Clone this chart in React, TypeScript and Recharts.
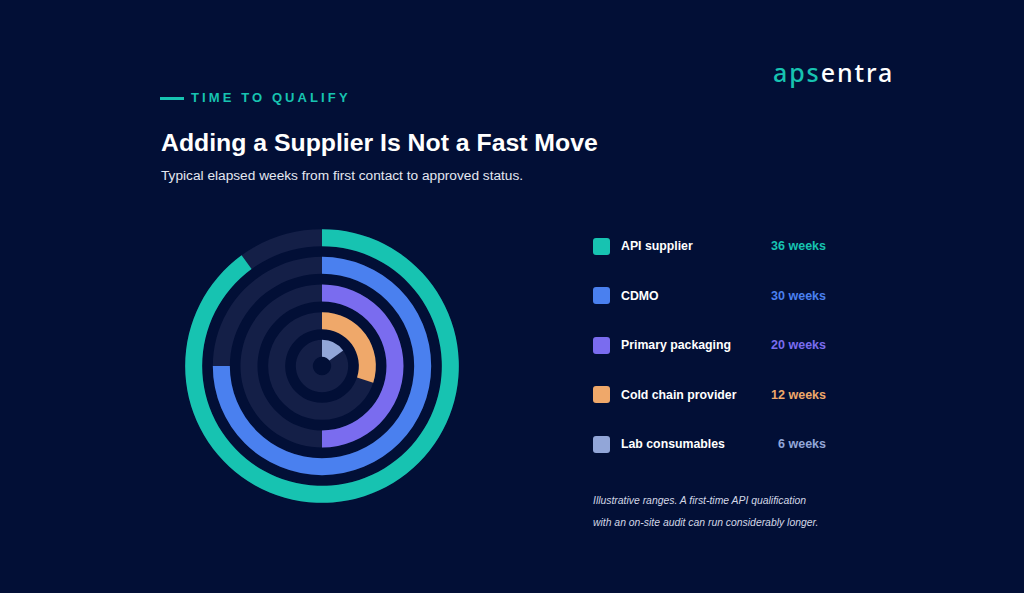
import React from 'react';
import { RadialBarChart, RadialBar, PolarAngleAxis, Cell } from 'recharts';

const categories = ['API supplier', 'CDMO', 'Primary packaging', 'Cold chain provider', 'Lab consumables'];
const weeks = [36, 30, 20, 12, 6];
const seriesColors = ['#17c3b1', '#4a80ef', '#7a6cef', '#efa86a', '#92a6d8'];
const maxWeeks = 40;
const footnote = [
  'Illustrative ranges. A first-time API qualification',
  'with an on-site audit can run considerably longer.',
];

const BG = '#020f36';
const TRACK = '#141f47';
const SANS = '"Liberation Sans", Arial, Helvetica, sans-serif';

// recharts puts the first row on the inside, so flip it
const ringData = categories
  .map((name, i) => ({ name, weeks: weeks[i], color: seriesColors[i] }))
  .reverse();

const App: React.FC = () => {
  return (
    <div
      style={{
        position: 'absolute',
        left: 0,
        top: 0,
        width: 1024,
        height: 593,
        background: BG,
        fontFamily: SANS,
        overflow: 'hidden',
      }}
    >
      {/* logo */}
      <div
        style={{
          position: 'absolute',
          left: 773,
          top: 55,
          fontFamily: '"Noto Sans", sans-serif',
          fontSize: 25,
          fontWeight: 500,
          letterSpacing: 1.9,
          lineHeight: '34px',
        }}
      >
        <span style={{ color: '#17c3b1' }}>aps</span>
        <span style={{ color: '#ffffff' }}>entra</span>
      </div>

      {/* eyebrow */}
      <div style={{ position: 'absolute', left: 160, top: 97, width: 24, height: 3, background: '#17c3b1' }} />
      <div
        style={{
          position: 'absolute',
          left: 191,
          top: 89,
          fontSize: 13,
          fontWeight: 700,
          letterSpacing: 3.1,
          color: '#17c3b1',
          lineHeight: '18px',
        }}
      >
        TIME TO QUALIFY
      </div>

      <div
        style={{
          position: 'absolute',
          left: 161,
          top: 128,
          fontSize: 24.8,
          fontWeight: 700,
          color: '#ffffff',
          lineHeight: '30px',
          whiteSpace: 'nowrap',
        }}
      >
        Adding a Supplier Is Not a Fast Move
      </div>
      <div
        style={{
          position: 'absolute',
          left: 161,
          top: 167,
          fontSize: 13.7,
          color: '#e4e7f1',
          lineHeight: '18px',
          whiteSpace: 'nowrap',
        }}
      >
        Typical elapsed weeks from first contact to approved status.
      </div>

      <div style={{ position: 'absolute', left: 172, top: 216 }}>
        <RadialBarChart
          width={300}
          height={300}
          cx={150}
          cy={150}
          innerRadius={4.2}
          outerRadius={142.5}
          barSize={17}
          startAngle={90}
          endAngle={-270}
          data={ringData}
        >
          <PolarAngleAxis type="number" domain={[0, maxWeeks]} tick={false} axisLine={false} />
          <RadialBar dataKey="weeks" background={{ fill: TRACK }} isAnimationActive={false}>
            {ringData.map((d) => (
              <Cell key={d.name} fill={d.color} />
            ))}
          </RadialBar>
        </RadialBarChart>
      </div>

      {/* legend */}
      {categories.map((name, i) => {
        const cy = 246 + i * 49.5;
        return (
          <div key={name}>
            <div
              style={{
                position: 'absolute',
                left: 593,
                top: cy - 8.5,
                width: 17,
                height: 17,
                borderRadius: 3,
                background: seriesColors[i],
              }}
            />
            <div
              style={{
                position: 'absolute',
                left: 621,
                top: cy - 9,
                fontSize: 12.3,
                fontWeight: 700,
                color: '#ffffff',
                lineHeight: '18px',
                whiteSpace: 'nowrap',
              }}
            >
              {name}
            </div>
            <div
              style={{
                position: 'absolute',
                right: 1024 - 826,
                top: cy - 9,
                fontSize: 12.5,
                fontWeight: 700,
                color: seriesColors[i],
                lineHeight: '18px',
                whiteSpace: 'nowrap',
              }}
            >
              {weeks[i]} weeks
            </div>
          </div>
        );
      })}

      {footnote.map((line, i) => (
        <div
          key={i}
          style={{
            position: 'absolute',
            left: 593,
            top: 493 + i * 21.7,
            fontSize: 10.4,
            fontStyle: 'italic',
            color: '#d3d7e6',
            lineHeight: '16px',
            whiteSpace: 'nowrap',
          }}
        >
          {line}
        </div>
      ))}
    </div>
  );
};

export default App;
